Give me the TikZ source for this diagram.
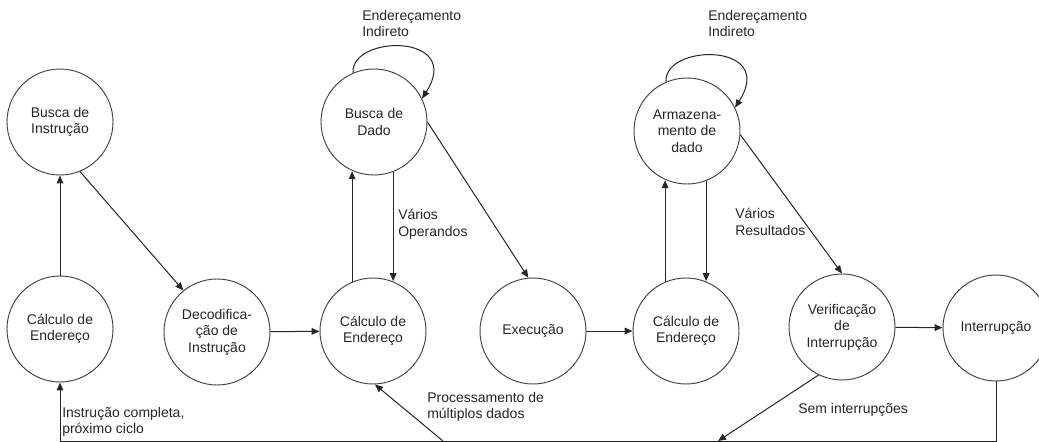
\documentclass[tikz,border=0pt]{standalone}
\usepackage{fontspec}
\setmainfont{Liberation Sans}
\usetikzlibrary{arrows.meta,calc}
\tikzset{
  st/.style={circle, draw=black!75, line width=0.7pt, minimum size=79.5pt, inner sep=0pt, align=center, text=black!85, font=\fontsize{10.5pt}{12.4pt}\selectfont},
  lbl/.style={anchor=north west, inner sep=0pt, align=left, text=black!85, font=\fontsize{10.5pt}{12.4pt}\selectfont},
  arr/.style={-{Triangle[length=6pt,width=5pt]}, line width=0.75pt, draw=black!85},
}
\begin{document}
\begin{tikzpicture}[x=0.75pt,y=-0.75pt]
\useasboundingbox (0,0) rectangle (1039,442);
\fill[white] (0,0) rectangle (1039,442);
\clip (0,0) rectangle (1039,442);
% states
\node[st] (BI) at (60,122) {Busca de\\Instrução};
\node[st] (CE1) at (60,329) {Cálculo de\\Endereço};
\node[st] (DEC) at (217,332) {Decodifica-\\ção de\\Instrução};
\node[st] (BD) at (374,122) {Busca de\\Dado};
\node[st] (CE2) at (373,331) {Cálculo de\\Endereço};
\node[st] (EXE) at (533,331) {Execução};
\node[st] (ARM) at (687,131) {Armazena-\\mento de\\dado};
\node[st] (CE3) at (686,331) {Cálculo de\\Endereço};
\node[st] (VER) at (842,327) {Verificação\\de\\Interrupção};
\node[st] (INT) at (996,328) {Interrupção};
% free ends on the bottom line
\coordinate (b1) at (443,441);
\coordinate (b2) at (718,441);
% connectors
\draw[arr] (CE1) -- (BI);
\draw[arr] (BI.-68) -- (DEC.129);
\draw[arr] (DEC) -- (CE2);
\draw[arr] (CE2.113) -- (CE2.113 |- BD.247);
\draw[arr] (BD.-69) -- (BD.-69 |- CE2.69);
\draw[arr] (BD.east) -- (EXE.95);
\draw[arr] (BD.113) .. controls +(-3,-38) and +(42,-66) .. (BD.26);
\draw[arr] (EXE) -- (CE3);
\draw[arr] (CE3.113) -- (CE3.113 |- ARM.247);
\draw[arr] (ARM.-69) -- (ARM.-69 |- CE3.69);
\draw[arr] (ARM.113) .. controls +(-3,-38) and +(42,-66) .. (ARM.26);
\draw[arr] (ARM.-4) -- (VER.north);
\draw[arr] (VER) -- (INT);
\draw[arr] (VER.-116) -- (b2);
\draw[arr] (INT.south) -- (INT.south |- b1) -- (CE1.south |- b1) -- (CE1.south);
\draw[arr] (b1) -- (CE2.-88);
% labels
\node[lbl] (l1) at (362,10) {Endereçamento\\Indireto};
\node[lbl] (l2) at (708,10) {Endereçamento\\Indireto};
\node[lbl] (l3) at (398,209) {Vários\\Operandos};
\node[lbl] (l4) at (735,208) {Vários\\Resultados};
\node[lbl] (l5) at (427,392) {Processamento de\\múltiplos dados};
\node[lbl] (l6) at (798,403) {Sem interrupções};
\node[lbl] (l7) at (62,407) {Instrução completa,\\próximo ciclo};
\end{tikzpicture}
\end{document}
